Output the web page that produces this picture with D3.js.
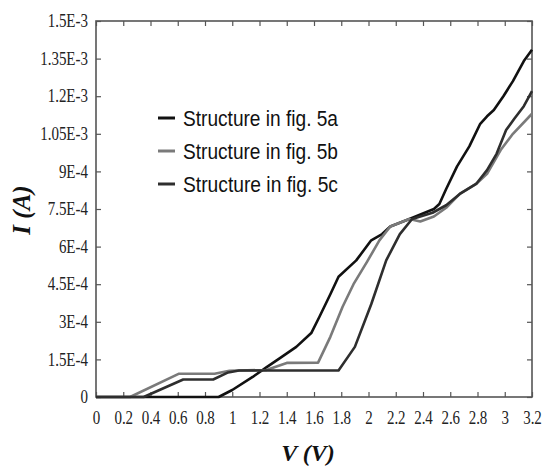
<!DOCTYPE html>
<html>
<head>
<meta charset="utf-8">
<script src="https://cdn.jsdelivr.net/npm/d3@7"></script>
<style>
  body { margin: 0; background: #fff; }
  svg { display: block; }
</style>
</head>
<body>
<div id="chart"></div>
<script>
const xTicks = [0, 0.2, 0.4, 0.6, 0.8, 1, 1.2, 1.4, 1.6, 1.8, 2, 2.2, 2.4, 2.6, 2.8, 3, 3.2];
const xTickLabels = ['0', '0.2', '0.4', '0.6', '0.8', '1', '1.2', '1.4', '1.6', '1.8', '2', '2.2', '2.4', '2.6', '2.8', '3', '3.2'];
const yTicks = [0, 1.5e-4, 3e-4, 4.5e-4, 6e-4, 7.5e-4, 9e-4, 1.05e-3, 1.2e-3, 1.35e-3, 1.5e-3];
const yTickLabels = ['0', '1.5E-4', '3E-4', '4.5E-4', '6E-4', '7.5E-4', '9E-4', '1.05E-3', '1.2E-3', '1.35E-3', '1.5E-3'];

const seriesNames = ['Structure in fig. 5a', 'Structure in fig. 5b', 'Structure in fig. 5c'];

// [V, I] pairs
const fig5a = [
  [0, 0], [0.9, 0], [1.0, 0.28e-4], [1.15, 0.8e-4], [1.25, 1.18e-4], [1.35, 1.55e-4],
  [1.47, 2.0e-4], [1.58, 2.55e-4], [1.64, 3.2e-4], [1.72, 4.1e-4], [1.78, 4.8e-4],
  [1.91, 5.45e-4], [2.02, 6.25e-4], [2.1, 6.5e-4], [2.16, 6.8e-4], [2.3, 7.1e-4],
  [2.48, 7.5e-4], [2.52, 7.7e-4], [2.57, 8.3e-4], [2.65, 9.2e-4], [2.74, 1.0e-3],
  [2.82, 1.09e-3], [2.87, 1.12e-3], [2.92, 1.145e-3], [2.99, 1.2e-3], [3.06, 1.26e-3],
  [3.14, 1.34e-3], [3.2, 1.385e-3]
];
const fig5b = [
  [0, 0], [0.25, 0], [0.61, 0.93e-4], [0.87, 0.93e-4], [0.98, 1.05e-4], [1.25, 1.08e-4],
  [1.4, 1.36e-4], [1.63, 1.37e-4], [1.72, 2.4e-4], [1.81, 3.6e-4], [1.89, 4.5e-4],
  [1.99, 5.4e-4], [2.08, 6.25e-4], [2.16, 6.8e-4], [2.3, 7.1e-4], [2.38, 7.0e-4],
  [2.48, 7.2e-4], [2.57, 7.55e-4], [2.67, 8.1e-4], [2.79, 8.5e-4], [2.87, 8.9e-4],
  [2.97, 9.85e-4], [3.06, 1.05e-3], [3.2, 1.13e-3]
];
const fig5c = [
  [0, 0], [0.35, 0], [0.64, 0.7e-4], [0.86, 0.7e-4], [0.97, 0.98e-4], [1.05, 1.06e-4],
  [1.78, 1.06e-4], [1.9, 2.0e-4], [2.02, 3.7e-4], [2.13, 5.45e-4], [2.23, 6.5e-4],
  [2.32, 7.1e-4], [2.47, 7.35e-4], [2.57, 7.65e-4], [2.67, 8.1e-4], [2.79, 8.5e-4],
  [2.87, 9.05e-4], [2.94, 9.7e-4], [3.01, 1.065e-3], [3.07, 1.11e-3], [3.14, 1.16e-3],
  [3.2, 1.22e-3]
];

const seriesData = [fig5a, fig5b, fig5c];
const seriesColors = ['#111', '#7a7a7a', '#2e2e2e'];

const W = 543, H = 466;
const margin = { top: 21, right: 11, bottom: 69, left: 96 };
const width = W - margin.left - margin.right;
const height = H - margin.top - margin.bottom;

const svg = d3.select('#chart').append('svg')
  .attr('width', W)
  .attr('height', H);

const g = svg.append('g')
  .attr('transform', `translate(${margin.left},${margin.top})`);

const x = d3.scaleLinear().domain([0, 3.2]).range([0, width]);
const y = d3.scaleLinear().domain([0, 1.5e-3]).range([height, 0]);

const serif = '"Liberation Serif", "Times New Roman", serif';

// Bottom axis (ticks point inward)
const xAxis = g.append('g')
  .attr('transform', `translate(0,${height})`)
  .call(d3.axisBottom(x).tickValues(xTicks).tickSizeInner(-5).tickSizeOuter(0)
    .tickPadding(12).tickFormat((d, i) => xTickLabels[i]));
xAxis.selectAll('text')
  .attr('font-family', serif).attr('font-size', '15px').attr('fill', '#222')
  .attr('transform', 'scale(1,1.2)');

// Left axis
const yAxis = g.append('g')
  .call(d3.axisLeft(y).tickValues(yTicks).tickSizeInner(-5).tickSizeOuter(0)
    .tickPadding(8).tickFormat((d, i) => yTickLabels[i]));
yAxis.selectAll('text')
  .attr('font-family', serif).attr('font-size', '15px').attr('fill', '#222')
  .attr('transform', 'scale(1,1.2)');

// Top and right ticks, no labels
g.append('g')
  .call(d3.axisTop(x).tickValues(xTicks).tickSizeInner(-5).tickSizeOuter(0).tickFormat(''));
g.append('g')
  .attr('transform', `translate(${width},0)`)
  .call(d3.axisRight(y).tickValues(yTicks).tickSizeInner(-5).tickSizeOuter(0).tickFormat(''));

g.selectAll('.domain').remove();
g.selectAll('.tick line').attr('stroke', '#555').attr('stroke-width', 1.2);

// Frame
g.append('rect')
  .attr('x', 0).attr('y', 0)
  .attr('width', width).attr('height', height)
  .attr('fill', 'none')
  .attr('stroke', '#555')
  .attr('stroke-width', 1.6);

// Curves
const line = d3.line()
  .x(d => x(d[0]))
  .y(d => y(d[1]));

seriesData.forEach((data, i) => {
  g.append('path')
    .datum(data)
    .attr('fill', 'none')
    .attr('stroke', seriesColors[i])
    .attr('stroke-width', 2.6)
    .attr('stroke-linejoin', 'round')
    .attr('d', line);
});

// Legend
const legend = svg.append('g').attr('transform', 'translate(158,118)');
seriesNames.forEach((name, i) => {
  const yOff = i * 33;
  legend.append('line')
    .attr('x1', 0).attr('x2', 17).attr('y1', yOff).attr('y2', yOff)
    .attr('stroke', seriesColors[i]).attr('stroke-width', 3);
  legend.append('text')
    .attr('x', 25).attr('y', yOff + 8)
    .attr('font-family', '"Liberation Sans", Arial, sans-serif')
    .attr('font-size', '22px')
    .attr('textLength', 155)
    .attr('lengthAdjust', 'spacingAndGlyphs')
    .attr('fill', '#111')
    .text(name);
});

// Axis titles
svg.append('text')
  .attr('x', 308).attr('y', 461)
  .attr('text-anchor', 'middle')
  .attr('font-family', serif)
  .attr('font-size', '24px')
  .attr('font-weight', 'bold')
  .attr('font-style', 'italic')
  .attr('fill', '#111')
  .text('V (V)');

svg.append('text')
  .attr('transform', 'translate(30,210) rotate(-90)')
  .attr('text-anchor', 'middle')
  .attr('font-family', serif)
  .attr('font-size', '25px')
  .attr('font-weight', 'bold')
  .attr('font-style', 'italic')
  .attr('fill', '#111')
  .text('I (A)');
</script>
</body>
</html>
